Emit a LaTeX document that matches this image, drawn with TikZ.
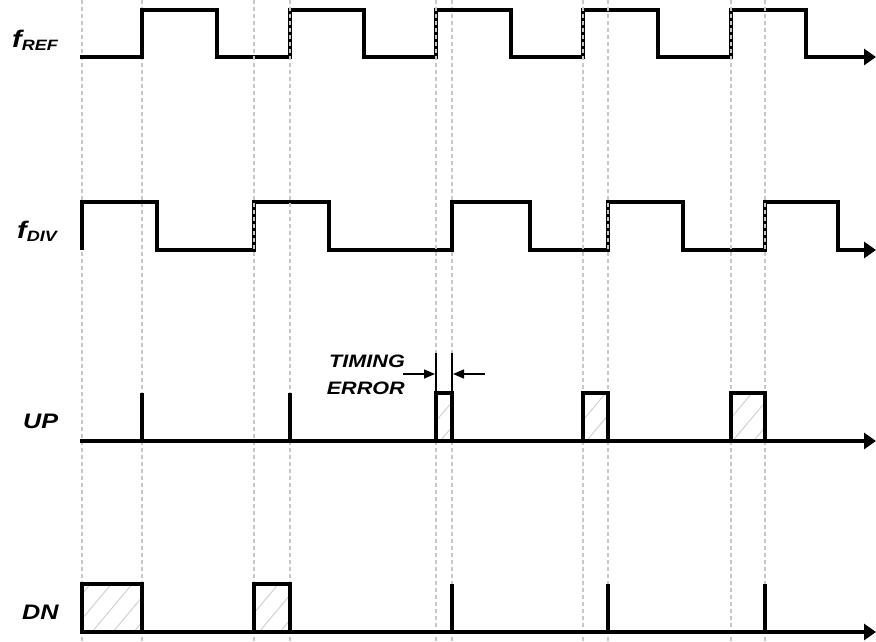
\documentclass[tikz,border=0pt]{standalone}
\usepackage{fontspec}
\setmainfont{Liberation Sans}
\newfontfamily\lblfont[FakeStretch=1.2]{Liberation Sans}
\usetikzlibrary{arrows.meta,patterns.meta}
\newcommand{\fsig}[1]{{\fontsize{24}{24}\selectfont f}\raisebox{-3pt}{\fontsize{15}{15}\selectfont #1}}

\begin{document}
\begin{tikzpicture}[
  x=1pt, y=-1pt,
  >={Triangle[length=12pt,width=16pt]},
  wave/.style={line width=3.5pt, line join=miter},
  guide/.style={draw=black!22, line width=2pt, dash pattern=on 4pt off 3pt},
  hatched/.style={pattern={Lines[angle=50,distance=16pt,line width=1pt]}, pattern color=black!18},
  siglabel/.style={font=\lblfont\fontsize{21}{21}\selectfont\bfseries\itshape, inner sep=0pt, anchor=base west},
  errlabel/.style={font=\lblfont\fontsize{18}{27}\selectfont\bfseries\itshape, inner sep=0pt, align=right, anchor=east},
  errarrow/.style={->, >={Triangle[length=11pt,width=9pt]}, line width=1.5pt}
]
\useasboundingbox (0,0) rectangle (876,642);

% Repères verticaux
\foreach \x in {82,142,254,290,436,452,583,608,731,765}
  \draw[guide] (\x,0) -- (\x,642);

% f_REF
\coordinate (ref0) at (80,57);
\coordinate (ref1) at (876,57);
\draw[wave, ->] (ref0) \foreach \a/\b in {142/217,290/364,436/511,583/658,731/806}{
  -- (\a,57) -- (\a,10) -- (\b,10) -- (\b,57)} -- (ref1);

% f_DIV
\coordinate (div0) at (82,250);
\coordinate (div1) at (876,250);
\draw[wave, ->] (div0) \foreach \a/\b in {82/157,254/329,452/530,608/683,765/838}{
  -- (\a,250) -- (\a,202) -- (\b,202) -- (\b,250)} -- (div1);

% UP
\coordinate (up0) at (80,441);
\coordinate (up1) at (876,441);
\foreach \a/\b in {436/452,583/608,731/765}
  \draw[wave, hatched] (\a,441) -- (\a,393) -- (\b,393) -- (\b,441);
\foreach \a in {142,290}
  \draw[wave] (\a,441) -- (\a,393);
\draw[wave, ->] (up0) -- (up1);

% DN
\coordinate (dn0) at (80,632);
\coordinate (dn1) at (876,632);
\foreach \a/\b in {82/142,254/290}
  \draw[wave, hatched] (\a,632) -- (\a,584) -- (\b,584) -- (\b,632);
\foreach \a in {452,608,765}
  \draw[wave] (\a,632) -- (\a,584);
\draw[wave, ->] (dn0) -- (dn1);

% Repères par-dessus les fronts
\begin{scope}
  \clip (0,0) rectangle (876,260);
  \foreach \x in {254,290,436,583,608,731,765}
    \draw[guide] (\x,0) -- (\x,260);
\end{scope}

% Erreur de phase
\coordinate (ua) at (436,393);
\coordinate (ub) at (452,393);
\coordinate (ta) at (436,353);
\coordinate (tb) at (452,353);
\draw[line width=2pt] (ua) -- (ta);
\draw[line width=2pt] (ub) -- (tb);
\coordinate (ea) at (403,374);
\coordinate (eb) at (435,374);
\coordinate (ec) at (485,374);
\coordinate (ed) at (453,374);
\draw[errarrow] (ea) -- (eb);
\draw[errarrow] (ec) -- (ed);

% Libellés
\node[siglabel] (lref) at (12,48) {\fsig{REF}};
\node[siglabel] (ldiv) at (17,238) {\fsig{DIV}};
\node[siglabel] (lup) at (23,428) {UP};
\node[siglabel] (ldn) at (22,619) {DN};
\node[errlabel] (lerr) at (405,375) {TIMING\\ERROR};
\end{tikzpicture}
\end{document}
